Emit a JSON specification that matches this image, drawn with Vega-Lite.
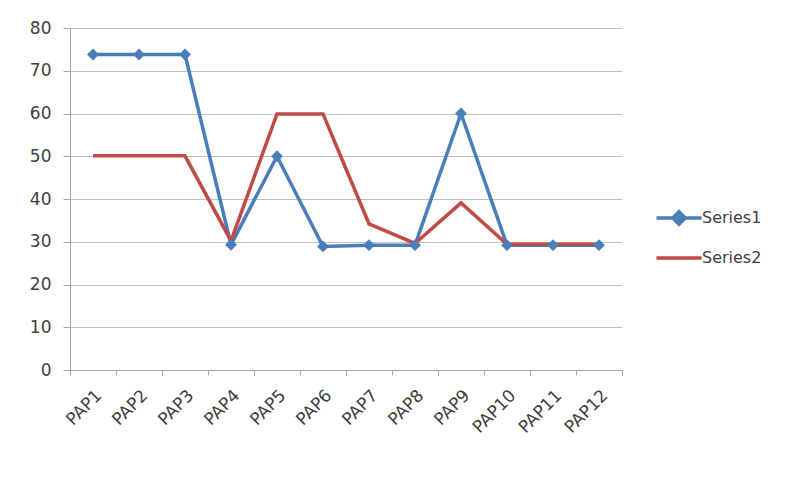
{
  "$schema": "https://vega.github.io/schema/vega-lite/v6.json",
  "autosize": {"type": "none"},
  "width": 552,
  "height": 342,
  "padding": {"left": 70, "top": 28, "right": 169, "bottom": 108},
  "background": "white",
  "config": {
    "view": {"stroke": null},
    "font": "DejaVu Sans"
  },
  "data": {
    "values": [
      {"pap": "PAP1", "series": "Series1", "value": 73.8},
      {"pap": "PAP2", "series": "Series1", "value": 73.8},
      {"pap": "PAP3", "series": "Series1", "value": 73.8},
      {"pap": "PAP4", "series": "Series1", "value": 29.3},
      {"pap": "PAP5", "series": "Series1", "value": 50},
      {"pap": "PAP6", "series": "Series1", "value": 28.9},
      {"pap": "PAP7", "series": "Series1", "value": 29.2},
      {"pap": "PAP8", "series": "Series1", "value": 29.2},
      {"pap": "PAP9", "series": "Series1", "value": 60},
      {"pap": "PAP10", "series": "Series1", "value": 29.2},
      {"pap": "PAP11", "series": "Series1", "value": 29.2},
      {"pap": "PAP12", "series": "Series1", "value": 29.2},
      {"pap": "PAP1", "series": "Series2", "value": 50.1},
      {"pap": "PAP2", "series": "Series2", "value": 50.1},
      {"pap": "PAP3", "series": "Series2", "value": 50.1},
      {"pap": "PAP4", "series": "Series2", "value": 30.2},
      {"pap": "PAP5", "series": "Series2", "value": 59.9},
      {"pap": "PAP6", "series": "Series2", "value": 59.9},
      {"pap": "PAP7", "series": "Series2", "value": 34.2},
      {"pap": "PAP8", "series": "Series2", "value": 29.6},
      {"pap": "PAP9", "series": "Series2", "value": 39.1},
      {"pap": "PAP10", "series": "Series2", "value": 29.4},
      {"pap": "PAP11", "series": "Series2", "value": 29.4},
      {"pap": "PAP12", "series": "Series2", "value": 29.4}
    ]
  },
  "encoding": {
    "x": {
      "field": "pap",
      "type": "nominal",
      "bandPosition": 0.5,
      "scale": {"type": "band", "paddingInner": 0, "paddingOuter": 0,
        "domain": ["PAP1","PAP2","PAP3","PAP4","PAP5","PAP6","PAP7","PAP8","PAP9","PAP10","PAP11","PAP12"]},
      "axis": {
        "title": null,
        "labelAngle": -45,
        "tickBand": "extent",
        "tickSize": 5,
        "grid": false,
        "domainColor": "#a6a6a6",
        "tickColor": "#a6a6a6",
        "labelFont": "DejaVu Sans",
        "labelFontSize": 17,
        "labelColor": "#404040",
        "labelPadding": 12
      }
    },
    "y": {
      "field": "value",
      "type": "quantitative",
      "scale": {"domain": [0, 80], "nice": false},
      "axis": {
        "title": null,
        "values": [0, 10, 20, 30, 40, 50, 60, 70, 80],
        "tickSize": 7,
        "labelPadding": 12,
        "domainColor": "#a6a6a6",
        "tickColor": "#a6a6a6",
        "gridColor": "#c0c0c0",
        "gridWidth": 1,
        "labelFont": "DejaVu Sans",
        "labelFontSize": 17,
        "labelColor": "#404040"
      }
    }
  },
  "layer": [
    {
      "mark": {"type": "line", "strokeWidth": 3.5},
      "encoding": {
        "color": {
          "field": "series",
          "type": "nominal",
          "scale": {"domain": ["Series1", "Series2"], "range": ["#4A7EBB", "#BE4B48"]},
          "legend": {
            "orient": "none",
            "legendX": 601,
            "legendY": 182,
            "title": null,
            "padding": 0,
            "symbolSize": 127,
            "symbolStrokeWidth": 3.5,
            "labelOffset": 15,
            "rowPadding": 18,
            "labelFont": "DejaVu Sans",
            "labelFontSize": 16,
            "labelColor": "#404040",
            "encode": {
              "symbols": {
                "update": {
                  "shape": {"signal": "datum.value === 'Series1' ? 'M-4,0L4,0M-1.1,0L0,-1.1L1.1,0L0,1.1Z' : 'M-4,0L4,0'"},
                  "fill": {"signal": "scale('color', datum.value)"},
                  "opacity": {"value": 1}
                }
              }
            }
          }
        }
      }
    },
    {
      "transform": [{"filter": "datum.series === 'Series1'"}],
      "mark": {"type": "point", "shape": "diamond", "filled": true, "size": 140, "color": "#4A7EBB", "opacity": 1}
    }
  ]
}
